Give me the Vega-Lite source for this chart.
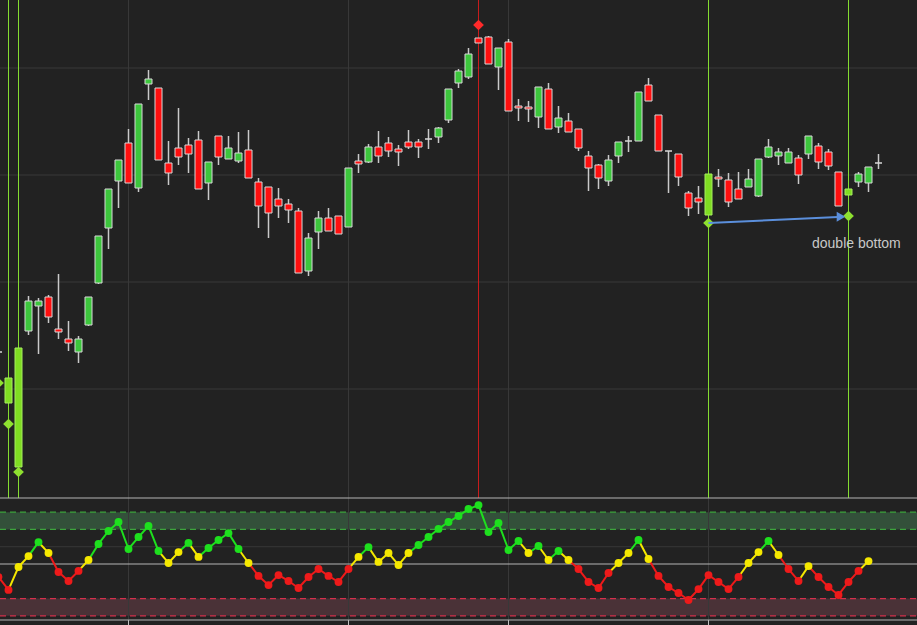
{
  "$schema": "https://vega.github.io/schema/vega-lite/v6.json",
  "background": "#222222",
  "padding": 0,
  "autosize": {"type": "none"},
  "width": 917,
  "height": 625,
  "config": {"view": {"stroke": null}},
  "datasets": {
    "candles": [
      {"i":0,"o":114.8,"h":115.2,"l":114.4,"c":114.8,"m":111.7},
      {"i":1,"o":109.7,"h":112.2,"l":109.7,"c":112.2,"m":107.6,"sig":"buy"},
      {"i":2,"o":103.3,"h":115.2,"l":103.3,"c":115.2,"m":102.8,"sig":"buy"},
      {"i":3,"o":116.9,"h":120.4,"l":116.5,"c":119.9},
      {"i":4,"o":119.4,"h":120.2,"l":114.6,"c":119.9},
      {"i":5,"o":120.3,"h":120.5,"l":117.7,"c":118.3},
      {"i":6,"o":117.1,"h":122.6,"l":116.1,"c":116.8},
      {"i":7,"o":116.1,"h":117.9,"l":114.9,"c":115.7},
      {"i":8,"o":114.8,"h":116.4,"l":113.7,"c":116.1},
      {"i":9,"o":117.5,"h":120.3,"l":117.4,"c":120.3},
      {"i":10,"o":121.7,"h":126.4,"l":121.6,"c":126.4},
      {"i":11,"o":127.2,"h":131.1,"l":125.1,"c":131.1},
      {"i":12,"o":131.9,"h":134.0,"l":129.2,"c":134.0},
      {"i":13,"o":135.7,"h":137.1,"l":131.7,"c":131.7},
      {"i":14,"o":131.2,"h":139.6,"l":130.8,"c":139.6},
      {"i":15,"o":141.6,"h":143.0,"l":140.0,"c":142.1},
      {"i":16,"o":141.2,"h":141.2,"l":134.0,"c":134.0},
      {"i":17,"o":133.7,"h":135.9,"l":131.5,"c":132.7},
      {"i":18,"o":135.2,"h":139.2,"l":133.5,"c":134.3},
      {"i":19,"o":135.5,"h":136.2,"l":132.7,"c":134.6},
      {"i":20,"o":136.0,"h":136.9,"l":131.1,"c":131.1},
      {"i":21,"o":131.7,"h":133.8,"l":130.0,"c":133.8},
      {"i":22,"o":136.4,"h":136.4,"l":133.5,"c":134.3},
      {"i":23,"o":134.1,"h":136.4,"l":134.1,"c":135.2},
      {"i":24,"o":133.9,"h":136.8,"l":133.7,"c":134.7},
      {"i":25,"o":135.0,"h":137.0,"l":132.2,"c":132.2},
      {"i":26,"o":131.8,"h":132.2,"l":127.2,"c":129.4},
      {"i":27,"o":131.3,"h":131.3,"l":126.2,"c":128.7},
      {"i":28,"o":130.1,"h":131.2,"l":128.2,"c":129.4},
      {"i":29,"o":129.6,"h":130.1,"l":127.7,"c":129.0},
      {"i":30,"o":128.9,"h":129.2,"l":122.7,"c":122.7},
      {"i":31,"o":122.9,"h":126.7,"l":122.4,"c":126.2},
      {"i":32,"o":126.8,"h":128.9,"l":125.1,"c":128.2},
      {"i":33,"o":128.2,"h":129.2,"l":126.9,"c":126.9},
      {"i":34,"o":128.4,"h":128.4,"l":126.6,"c":126.6},
      {"i":35,"o":127.3,"h":133.2,"l":127.3,"c":133.2},
      {"i":36,"o":133.9,"h":134.6,"l":132.7,"c":133.6},
      {"i":37,"o":133.8,"h":135.6,"l":133.7,"c":135.3},
      {"i":38,"o":135.3,"h":136.9,"l":133.7,"c":134.4},
      {"i":39,"o":135.7,"h":136.3,"l":134.3,"c":134.9},
      {"i":40,"o":135.1,"h":135.5,"l":133.4,"c":134.8},
      {"i":41,"o":135.8,"h":137.0,"l":135.1,"c":135.3},
      {"i":42,"o":135.8,"h":136.1,"l":134.2,"c":135.3},
      {"i":43,"o":136.1,"h":137.1,"l":135.1,"c":136.1},
      {"i":44,"o":136.3,"h":137.3,"l":135.7,"c":137.2},
      {"i":45,"o":138.0,"h":141.1,"l":137.7,"c":141.1},
      {"i":46,"o":141.7,"h":143.1,"l":141.2,"c":142.9},
      {"i":47,"o":142.3,"h":145.2,"l":142.1,"c":144.6},
      {"i":48,"o":146.2,"h":146.2,"l":145.7,"c":145.7,"m":147.5,"sig":"sell"},
      {"i":49,"o":146.3,"h":146.4,"l":143.6,"c":143.6},
      {"i":50,"o":143.3,"h":145.2,"l":141.0,"c":145.2},
      {"i":51,"o":145.8,"h":146.1,"l":138.9,"c":138.9},
      {"i":52,"o":139.4,"h":140.1,"l":137.9,"c":139.2},
      {"i":53,"o":139.3,"h":139.9,"l":137.8,"c":139.1},
      {"i":54,"o":138.3,"h":141.3,"l":137.2,"c":141.3},
      {"i":55,"o":141.1,"h":141.7,"l":137.1,"c":137.1},
      {"i":56,"o":137.3,"h":139.4,"l":136.7,"c":138.2},
      {"i":57,"o":137.9,"h":138.7,"l":136.8,"c":136.8},
      {"i":58,"o":137.1,"h":137.1,"l":134.9,"c":135.2},
      {"i":59,"o":134.4,"h":134.9,"l":130.9,"c":133.2},
      {"i":60,"o":133.5,"h":133.6,"l":131.1,"c":132.2},
      {"i":61,"o":131.9,"h":134.5,"l":131.4,"c":134.0},
      {"i":62,"o":134.4,"h":135.8,"l":133.7,"c":135.8},
      {"i":63,"o":135.9,"h":136.4,"l":134.8,"c":135.9},
      {"i":64,"o":135.9,"h":140.8,"l":135.9,"c":140.8},
      {"i":65,"o":141.5,"h":142.2,"l":139.9,"c":139.9},
      {"i":66,"o":138.5,"h":138.5,"l":134.9,"c":134.9},
      {"i":67,"o":134.9,"h":134.9,"l":130.7,"c":134.9},
      {"i":68,"o":134.6,"h":134.6,"l":131.4,"c":132.3},
      {"i":69,"o":130.7,"h":130.9,"l":128.4,"c":129.2},
      {"i":70,"o":130.2,"h":131.4,"l":128.6,"c":129.8},
      {"i":71,"o":128.5,"h":132.6,"l":128.5,"c":132.6,"m":127.7,"sig":"buy"},
      {"i":72,"o":132.3,"h":133.1,"l":131.3,"c":132.1},
      {"i":73,"o":132.0,"h":132.7,"l":129.3,"c":129.8},
      {"i":74,"o":131.1,"h":132.8,"l":130.1,"c":130.1},
      {"i":75,"o":131.3,"h":133.1,"l":131.3,"c":132.1},
      {"i":76,"o":130.4,"h":134.1,"l":130.3,"c":134.1},
      {"i":77,"o":134.3,"h":136.1,"l":134.2,"c":135.3},
      {"i":78,"o":134.4,"h":135.2,"l":133.5,"c":134.8},
      {"i":79,"o":133.7,"h":135.2,"l":133.7,"c":134.8},
      {"i":80,"o":134.2,"h":134.5,"l":131.6,"c":132.5},
      {"i":81,"o":134.6,"h":136.4,"l":134.1,"c":136.4},
      {"i":82,"o":135.4,"h":135.7,"l":133.1,"c":133.8},
      {"i":83,"o":134.8,"h":135.1,"l":133.0,"c":133.4},
      {"i":84,"o":132.8,"h":132.8,"l":129.4,"c":129.4},
      {"i":85,"o":130.5,"h":131.1,"l":130.5,"c":131.1,"m":128.4,"sig":"buy"},
      {"i":86,"o":131.8,"h":132.8,"l":131.3,"c":132.6},
      {"i":87,"o":131.7,"h":133.3,"l":130.8,"c":133.3},
      {"i":88,"o":133.7,"h":134.6,"l":133.1,"c":133.7}
    ],
    "osc": [
      {"i":0,"v":42.5,"z":"bear"},{"i":1,"v":35.0,"z":"bear"},{"i":2,"v":48.3,"z":"neutral"},{"i":3,"v":54.6,"z":"neutral"},
      {"i":4,"v":62.7,"z":"bull"},{"i":5,"v":56.4,"z":"neutral"},{"i":6,"v":45.4,"z":"bear"},{"i":7,"v":40.2,"z":"bear"},
      {"i":8,"v":46.0,"z":"bear"},{"i":9,"v":52.3,"z":"neutral"},{"i":10,"v":61.6,"z":"bull"},{"i":11,"v":69.1,"z":"bull"},
      {"i":12,"v":74.3,"z":"bull"},{"i":13,"v":58.7,"z":"bull"},{"i":14,"v":65.6,"z":"bull"},{"i":15,"v":72.0,"z":"bull"},
      {"i":16,"v":57.5,"z":"bull"},{"i":17,"v":50.6,"z":"neutral"},{"i":18,"v":56.9,"z":"neutral"},{"i":19,"v":62.2,"z":"bull"},
      {"i":20,"v":54.1,"z":"neutral"},{"i":21,"v":59.3,"z":"bull"},{"i":22,"v":63.9,"z":"bull"},{"i":23,"v":67.9,"z":"bull"},
      {"i":24,"v":58.7,"z":"bull"},{"i":25,"v":50.6,"z":"neutral"},{"i":26,"v":43.1,"z":"bear"},{"i":27,"v":37.8,"z":"bear"},
      {"i":28,"v":43.6,"z":"bear"},{"i":29,"v":40.2,"z":"bear"},{"i":30,"v":36.1,"z":"bear"},{"i":31,"v":42.5,"z":"bear"},
      {"i":32,"v":47.1,"z":"bear"},{"i":33,"v":43.1,"z":"bear"},{"i":34,"v":39.6,"z":"bear"},{"i":35,"v":47.1,"z":"bear"},
      {"i":36,"v":54.1,"z":"neutral"},{"i":37,"v":59.8,"z":"bull"},{"i":38,"v":51.2,"z":"neutral"},{"i":39,"v":56.4,"z":"neutral"},
      {"i":40,"v":49.4,"z":"neutral"},{"i":41,"v":56.4,"z":"neutral"},{"i":42,"v":61.0,"z":"bull"},{"i":43,"v":65.6,"z":"bull"},
      {"i":44,"v":70.3,"z":"bull"},{"i":45,"v":74.3,"z":"bull"},{"i":46,"v":77.8,"z":"bull"},{"i":47,"v":81.8,"z":"bull"},
      {"i":48,"v":84.1,"z":"bull"},{"i":49,"v":68.5,"z":"bull"},{"i":50,"v":73.7,"z":"bull"},{"i":51,"v":58.1,"z":"bull"},
      {"i":52,"v":63.3,"z":"bull"},{"i":53,"v":56.4,"z":"neutral"},{"i":54,"v":60.4,"z":"bull"},{"i":55,"v":52.3,"z":"neutral"},
      {"i":56,"v":57.5,"z":"bull"},{"i":57,"v":52.3,"z":"neutral"},{"i":58,"v":47.1,"z":"bear"},{"i":59,"v":39.6,"z":"bear"},
      {"i":60,"v":36.1,"z":"bear"},{"i":61,"v":44.8,"z":"bear"},{"i":62,"v":50.6,"z":"neutral"},{"i":63,"v":56.4,"z":"neutral"},
      {"i":64,"v":63.9,"z":"bull"},{"i":65,"v":52.9,"z":"neutral"},{"i":66,"v":43.1,"z":"bear"},{"i":67,"v":36.7,"z":"bear"},
      {"i":68,"v":33.2,"z":"bear"},{"i":69,"v":29.2,"z":"bear"},{"i":70,"v":35.5,"z":"bear"},{"i":71,"v":43.6,"z":"bear"},
      {"i":72,"v":39.6,"z":"bear"},{"i":73,"v":35.5,"z":"bear"},{"i":74,"v":42.5,"z":"bear"},{"i":75,"v":50.6,"z":"neutral"},
      {"i":76,"v":56.9,"z":"neutral"},{"i":77,"v":63.3,"z":"bull"},{"i":78,"v":55.2,"z":"neutral"},{"i":79,"v":47.1,"z":"bear"},
      {"i":80,"v":40.2,"z":"bear"},{"i":81,"v":48.8,"z":"neutral"},{"i":82,"v":42.5,"z":"bear"},{"i":83,"v":36.7,"z":"bear"},
      {"i":84,"v":32.1,"z":"bear"},{"i":85,"v":39.6,"z":"bear"},{"i":86,"v":46.0,"z":"bear"},{"i":87,"v":51.7,"z":"neutral"}
    ],
    "bands": [
      {"lo":70,"hi":80,"k":"bull"},
      {"lo":20,"hi":30,"k":"bear"}
    ],
    "levels": [
      {"v":80,"k":"bull"},{"v":70,"k":"bull"},{"v":30,"k":"bear"},{"v":20,"k":"bear"}
    ],
    "vgrid": [{"i":13},{"i":35},{"i":51},{"i":71}],
    "hgrid": [{"p":143.2},{"p":132.5},{"p":121.8},{"p":111.1}],
    "arrow": [
      {"x1":71,"p1":127.7,"x2":83.95,"p2":128.3,"hx":84.25,"hp":128.33}
    ],
    "notes": [
      {"i":81.35,"p":125.2,"label":"double bottom"}
    ]
  },
  "layer": [
    {
      "layer": [
        {
          "data": {"name": "hgrid"},
          "mark": {"type": "rule", "color": "#383838", "strokeWidth": 1},
          "encoding": {
            "x": {"datum": 0.15, "type": "quantitative",
              "scale": {"domain": [0.15, 91.85], "range": [0, 917], "padding": 0, "nice": false, "zero": false}, "axis": null},
            "x2": {"datum": 91.85},
            "y": {"field": "p", "type": "quantitative",
              "scale": {"domain": [100.2, 150], "range": [498, 0], "padding": 0, "nice": false, "zero": false}, "axis": null}
          }
        },
        {
          "data": {"name": "vgrid"},
          "mark": {"type": "rule", "color": "#383838", "strokeWidth": 1},
          "encoding": {
            "x": {"field": "i", "type": "quantitative"},
            "y": {"datum": 150, "type": "quantitative"},
            "y2": {"datum": 100.2}
          }
        },
        {
          "data": {"name": "candles"},
          "transform": [{"filter": "isValid(datum.sig)"}],
          "mark": {"type": "rule", "strokeWidth": 1},
          "encoding": {
            "x": {"field": "i", "type": "quantitative"},
            "y": {"datum": 150, "type": "quantitative"},
            "y2": {"datum": 100.2},
            "color": {"field": "sig", "type": "nominal", "legend": null,
              "scale": {"domain": ["buy", "sell"], "range": ["#84dc30", "#c81c1c"]}}
          }
        },
        {
          "data": {"name": "candles"},
          "mark": {"type": "rule", "color": "#c9c9c9", "strokeWidth": 1.5},
          "encoding": {
            "x": {"field": "i", "type": "quantitative"},
            "y": {"field": "l", "type": "quantitative"},
            "y2": {"field": "h"}
          }
        },
        {
          "data": {"name": "candles"},
          "mark": {"type": "bar", "size": 7, "strokeWidth": 1},
          "encoding": {
            "x": {"field": "i", "type": "quantitative"},
            "y": {"field": "o", "type": "quantitative"},
            "y2": {"field": "c"},
            "fill": {"condition": [
              {"test": "datum.sig === 'buy'", "value": "#7fdc22"},
              {"test": "datum.c > datum.o", "value": "#3cc63c"},
              {"test": "datum.c < datum.o", "value": "#ff0f0f"}
            ], "value": "#d4d4d4"},
            "stroke": {"condition": [
              {"test": "datum.sig === 'buy'", "value": "#a6ee5e"}
            ], "value": "#d8d8d8"}
          }
        },
        {
          "data": {"name": "candles"},
          "transform": [{"filter": "isValid(datum.m)"}],
          "mark": {"type": "point", "shape": "diamond", "filled": true, "size": 115, "opacity": 1},
          "encoding": {
            "x": {"field": "i", "type": "quantitative"},
            "y": {"field": "m", "type": "quantitative"},
            "color": {"condition": {"test": "datum.sig === 'sell'", "value": "#ff2a2a"}, "value": "#8ee030"}
          }
        },
        {
          "data": {"name": "arrow"},
          "mark": {"type": "rule", "color": "#5b8fdc", "strokeWidth": 2},
          "encoding": {
            "x": {"field": "x1", "type": "quantitative"},
            "y": {"field": "p1", "type": "quantitative"},
            "x2": {"field": "x2"},
            "y2": {"field": "p2"}
          }
        },
        {
          "data": {"name": "arrow"},
          "mark": {"type": "point", "shape": "triangle-right", "filled": true, "size": 100, "color": "#5b8fdc", "opacity": 1},
          "encoding": {
            "x": {"field": "hx", "type": "quantitative"},
            "y": {"field": "hp", "type": "quantitative"}
          }
        },
        {
          "data": {"name": "notes"},
          "mark": {"type": "text", "align": "left", "baseline": "alphabetic", "font": "Liberation Sans", "fontSize": 14, "color": "#c8c8c8"},
          "encoding": {
            "x": {"field": "i", "type": "quantitative"},
            "y": {"field": "p", "type": "quantitative"},
            "text": {"field": "label"}
          }
        }
      ]
    },
    {
      "layer": [
        {
          "data": {"name": "bands"},
          "mark": {"type": "rect"},
          "encoding": {
            "x": {"datum": 0.15, "type": "quantitative"},
            "x2": {"datum": 91.85},
            "y": {"field": "lo", "type": "quantitative",
              "scale": {"domain": [17.6, 88.2], "range": [620, 498], "padding": 0, "nice": false, "zero": false}, "axis": null},
            "y2": {"field": "hi"},
            "fill": {"field": "k", "type": "nominal", "legend": null,
              "scale": {"domain": ["bull", "bear"], "range": ["#33503a", "#4a3237"]}}
          }
        },
        {
          "data": {"name": "vgrid"},
          "mark": {"type": "rule", "color": "#383838", "strokeWidth": 1},
          "encoding": {
            "x": {"field": "i", "type": "quantitative"},
            "y": {"datum": 88.2, "type": "quantitative"},
            "y2": {"datum": 17.6}
          }
        },
        {
          "data": {"name": "vgrid"},
          "mark": {"type": "rule", "color": "#c4c4c4", "strokeWidth": 1},
          "encoding": {
            "x": {"field": "i", "type": "quantitative"},
            "y": {"datum": 17.6, "type": "quantitative"},
            "y2": {"datum": 14.7}
          }
        },
        {
          "data": {"values": [{"v": 60}]},
          "mark": {"type": "rule", "color": "#383838", "strokeWidth": 1},
          "encoding": {
            "x": {"datum": 0.15, "type": "quantitative"},
            "x2": {"datum": 91.85},
            "y": {"field": "v", "type": "quantitative"}
          }
        },
        {
          "data": {"name": "levels"},
          "mark": {"type": "rule", "strokeWidth": 1.3, "strokeDash": [6, 4]},
          "encoding": {
            "x": {"datum": 0.15, "type": "quantitative"},
            "x2": {"datum": 91.85},
            "y": {"field": "v", "type": "quantitative"},
            "stroke": {"field": "k", "type": "nominal", "legend": null,
              "scale": {"domain": ["bull", "bear"], "range": ["#3da43d", "#d4304c"]}}
          }
        },
        {
          "data": {"values": [{"v": 50}, {"v": 88.2}, {"v": 17.6}]},
          "mark": {"type": "rule", "color": "#b4b4b4", "strokeWidth": 1},
          "encoding": {
            "x": {"datum": 0.15, "type": "quantitative"},
            "x2": {"datum": 91.85},
            "y": {"field": "v", "type": "quantitative"}
          }
        },
        {
          "data": {"name": "osc"},
          "transform": [
            {"window": [{"op": "lag", "field": "v", "as": "pv"}, {"op": "lag", "field": "i", "as": "pi"}], "sort": [{"field": "i"}]},
            {"filter": "isValid(datum.pv)"}
          ],
          "mark": {"type": "rule", "strokeWidth": 2},
          "encoding": {
            "x": {"field": "pi", "type": "quantitative"},
            "y": {"field": "pv", "type": "quantitative"},
            "x2": {"field": "i"},
            "y2": {"field": "v"},
            "color": {"field": "z", "type": "nominal", "legend": null,
              "scale": {"domain": ["bull", "neutral", "bear"], "range": ["#1ee01e", "#f5e800", "#ee1a1a"]}}
          }
        },
        {
          "data": {"name": "osc"},
          "mark": {"type": "point", "filled": true, "size": 62, "opacity": 1},
          "encoding": {
            "x": {"field": "i", "type": "quantitative"},
            "y": {"field": "v", "type": "quantitative"},
            "color": {"field": "z", "type": "nominal", "legend": null}
          }
        }
      ]
    }
  ],
  "resolve": {"scale": {"y": "independent", "color": "independent", "fill": "independent", "stroke": "independent"}}
}
